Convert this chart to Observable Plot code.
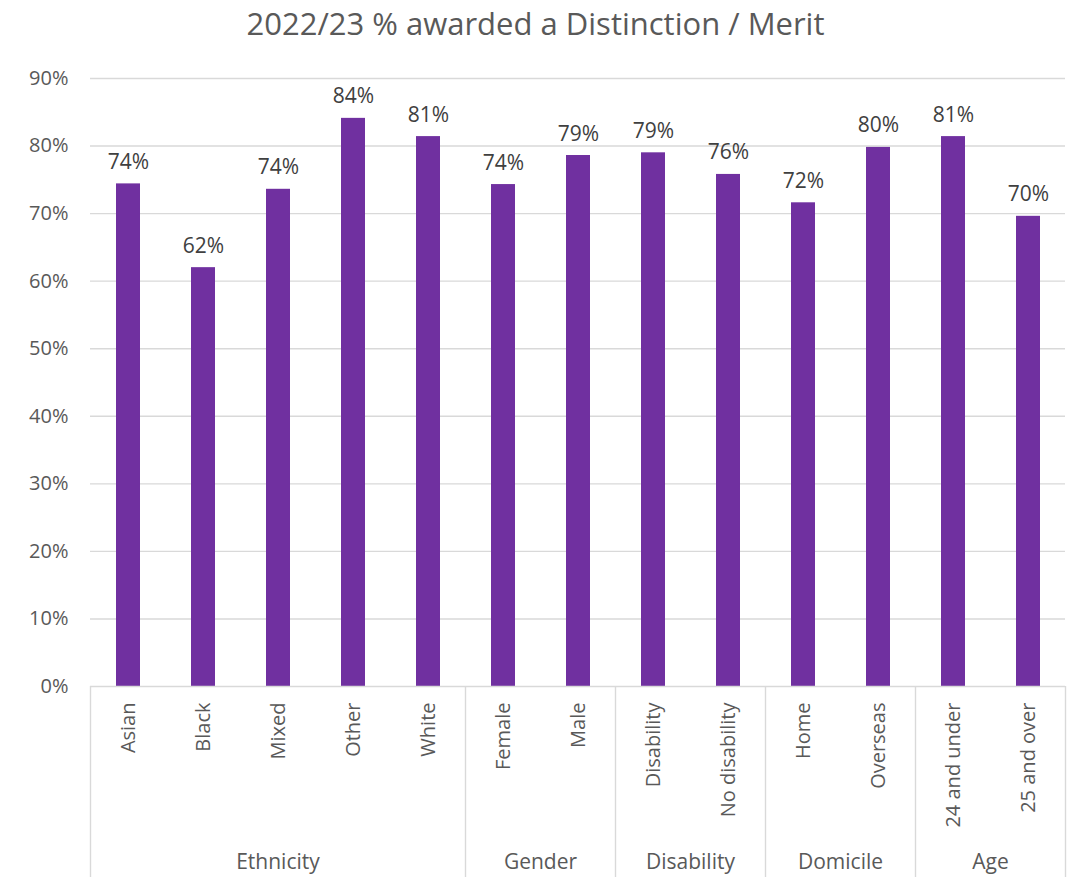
<!DOCTYPE html>
<html>
<head>
<meta charset="utf-8">
<script src="https://cdn.jsdelivr.net/npm/d3@7"></script>
<script src="https://cdn.jsdelivr.net/npm/@observablehq/plot@0.6"></script>
<style>
  html, body { margin: 0; padding: 0; background: #fff; }
  #title { height: 55px; line-height: 46px; text-align: center; font-family: "Open Sans", sans-serif; font-size: 31px; color: #595959; }
  #chart svg { display: block; }
</style>
</head>
<body>
<div id="title">2022/23 % awarded a Distinction / Merit</div>
<div id="chart"></div>
<script>
const categories = ["Asian", "Black", "Mixed", "Other", "White", "Female", "Male", "Disability", "No disability", "Home", "Overseas", "24 and under", "25 and over"];
const groups = ["Ethnicity", "Ethnicity", "Ethnicity", "Ethnicity", "Ethnicity", "Gender", "Gender", "Disability", "Disability", "Domicile", "Domicile", "Age", "Age"];
const values = [74.4, 62.0, 73.6, 84.1, 81.4, 74.3, 78.6, 79.0, 75.8, 71.6, 79.8, 81.4, 69.6];
const yTicks = [0, 10, 20, 30, 40, 50, 60, 70, 80, 90];

const data = categories.map((c, i) => ({category: c, group: groups[i], value: values[i]}));
const groupNames = [...new Set(groups)];

const font = '"Open Sans", sans-serif';
const grid = "#d9d9d9";

const chart = Plot.plot({
  width: 1071,
  height: 822,
  marginLeft: 90,
  marginRight: 6,
  marginTop: 23,
  marginBottom: 191,
  style: {fontFamily: font, background: "#fff"},
  x: {domain: categories, paddingInner: 0.68, paddingOuter: 0.34, axis: null},
  y: {domain: [0, 90], axis: null},
  marks: [
    Plot.gridY(yTicks.filter(d => d > 0), {stroke: grid, strokeOpacity: 1, strokeWidth: 1.4}),
    Plot.axisY(yTicks, {label: null, tickSize: 0, tickPadding: 22, tickFormat: d => d + "%", fontSize: 20, fill: "#595959"}),
    Plot.barY(data, {x: "category", y: "value", fill: "#7030A0"}),
    Plot.ruleY([0], {stroke: grid, strokeWidth: 1.4}),
    Plot.text(data, {x: "category", y: "value", text: d => Math.round(d.value) + "%", lineAnchor: "bottom", dy: -15, fontSize: 21, fill: "#404040"}),
    Plot.text(data, {x: "category", text: "category", frameAnchor: "bottom", dy: 16, rotate: -90, textAnchor: "end", lineAnchor: "middle", fontSize: 20, fill: "#595959"})
  ]
});

document.getElementById("chart").appendChild(chart);

// group separators and labels placed via Plot's x scale
const xs = chart.scale("x");
const svg = d3.select(chart);
const half = xs.step / 2;
const center = c => xs.apply(c) + xs.bandwidth / 2;
const axisY = 822 - 191;
const layer = svg.append("g");
const boundaries = [];
groupNames.forEach(g => {
  const cats = categories.filter((c, i) => groups[i] === g);
  const left = center(cats[0]) - half;
  const right = center(cats[cats.length - 1]) + half;
  boundaries.push(left, right);
  layer.append("text")
    .attr("x", (left + right) / 2)
    .attr("y", 808)
    .attr("text-anchor", "middle")
    .attr("dominant-baseline", "middle")
    .attr("font-family", font)
    .attr("font-size", 21)
    .attr("fill", "#595959")
    .text(g);
});
[...new Set(boundaries.map(b => Math.round(b * 10) / 10))].forEach(b => {
  layer.append("line")
    .attr("x1", b).attr("x2", b)
    .attr("y1", axisY).attr("y2", 822)
    .attr("stroke", grid).attr("stroke-width", 1.4);
});
</script>
</body>
</html>
